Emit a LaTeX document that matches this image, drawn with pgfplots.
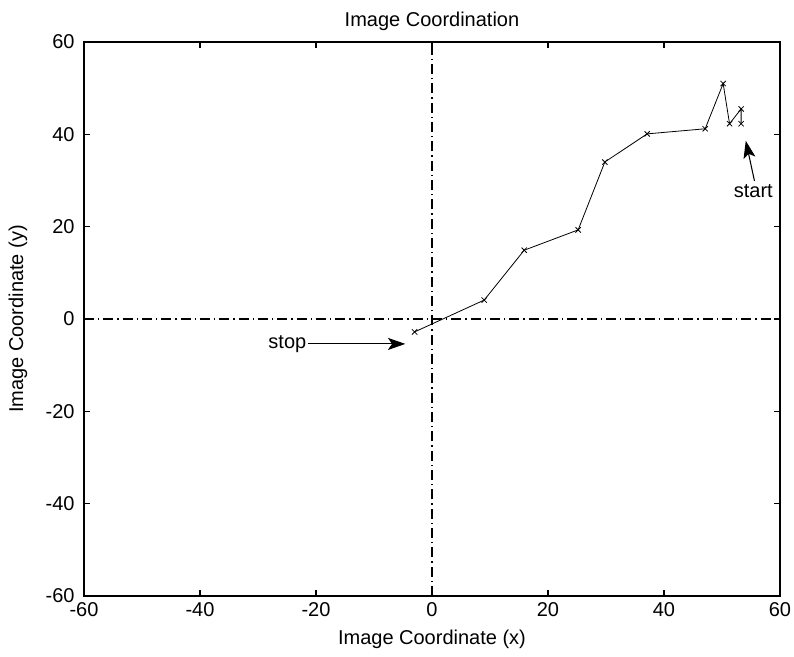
\documentclass[border=0pt]{standalone}
\usepackage{fontspec}
\setmainfont{Liberation Sans}
\usepackage{pgfplots}
\pgfplotsset{compat=1.18}
\usetikzlibrary{arrows.meta}

\begin{document}
\begin{tikzpicture}
  \begin{axis}[
      scale only axis,
      width=522pt,
      height=415.5pt,
      xmin=-60, xmax=60,
      ymin=-60, ymax=60,
      xtick={-60,-40,...,60},
      ytick={-60,-40,...,60},
      tick align=inside,
      major tick length=4.5pt,
      font=\fontsize{15}{17}\selectfont,
      /pgf/number format/assume math mode=true,
      title={Image Coordination},
      xlabel={Image Coordinate (x)},
      ylabel={Image Coordinate (y)},
      title style={yshift=-1pt},
      xlabel style={yshift=-3pt},
      ylabel style={yshift=7pt},
      xticklabel style={yshift=-1.5pt},
      yticklabel style={xshift=-3.5pt},
      axis line style={black, line width=0.8pt},
      tick style={black, line width=0.8pt},
      clip=false,
  ]
  % centre lines
  \addplot[black, line width=0.8pt, dash pattern=on 7.5pt off 3pt on 1pt off 3pt] coordinates {(-60,0) (60,0)};
  \addplot[black, line width=0.8pt, dash pattern=on 7.5pt off 3pt on 1pt off 3pt] coordinates {(0,-60) (0,60)};

  % track, from start to stop
  \addplot[black, line width=0.6pt, mark=x, mark size=2.8pt] coordinates {
      (53.3, 42.3)
      (53.3, 45.5)
      (51.3, 42.3)
      (50.2, 51.0)
      (47.1, 41.2)
      (37.1, 40.1)
      (29.8, 34.0)
      (25.2, 19.3)
      (15.9, 14.9)
      (9.0, 4.1)
      (-3.0, -2.8)
  };

  \draw[black, line width=0.8pt, -{Stealth[length=13pt, width=9pt, inset=3pt]}]
      (axis cs:-21.4,-5.4) -- (axis cs:-4.6,-5.4);
  \node[anchor=east, inner sep=1pt] at (axis cs:-21.4,-5.4) {stop};

  \draw[black, line width=0.8pt, -{Stealth[length=13pt, width=9pt, inset=3pt]}]
      (axis cs:55.6,29.9) -- (axis cs:54.1,38.6);
  \node[anchor=north, inner sep=1pt] at (axis cs:55.4,29.4) {start};
  \end{axis}
  \pgfresetboundingbox
  \path (current axis.south west) ++(-63pt,-45.75pt) rectangle ++(595.5pt,492.75pt);
\end{tikzpicture}
\end{document}
